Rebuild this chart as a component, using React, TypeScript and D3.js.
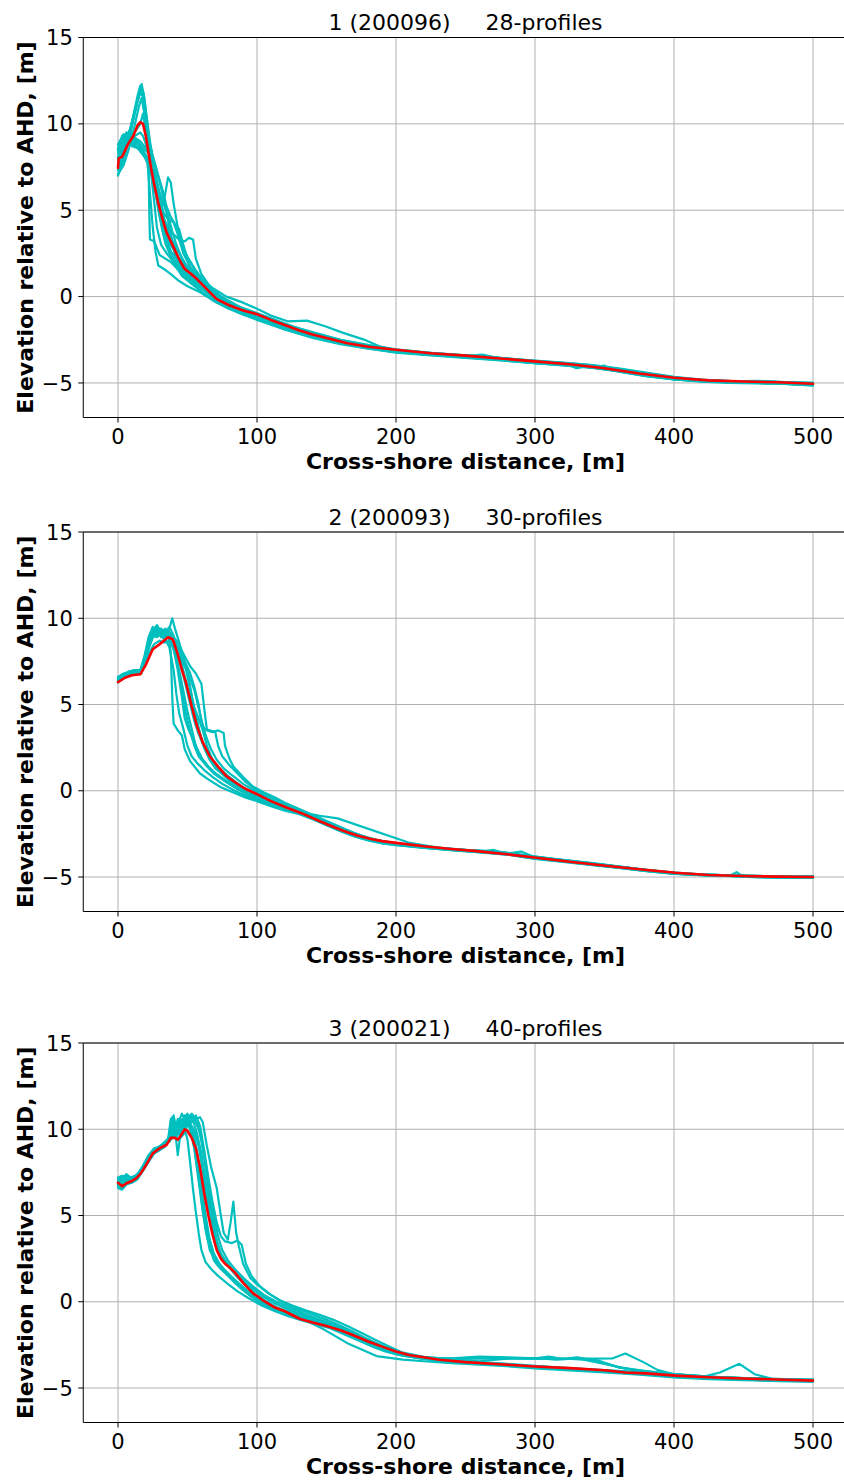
import React from "react";
import * as d3 from "d3";

type Pt = [number, number];

// ---------- tick labels ----------
const X_TICKS = [0, 100, 200, 300, 400, 500];
const Y_TICKS = [-5, 0, 5, 10, 15];

// ---------- panel titles ----------
const TITLES = ["1 (200096)     28-profiles", "2 (200093)     30-profiles", "3 (200021)     40-profiles"];

// ---------- Panel 1 profiles (cross-shore distance, elevation) ----------
const P1_A: Pt[] = [[0,7.0],[4,7.9],[8,9.1],[12,10.6],[15,11.8],[17,12.3],[19,11.5],[21,10.0],[23,8.3],[25,7.1],[28,5.6],[31,4.3],[34,3.1],[38,2.3],[42,1.7],[46,1.2],[52,0.8],[60,0.3],[70,-0.3],[80,-0.7],[90,-1.0],[100,-1.3],[120,-1.85],[140,-2.3],[160,-2.65],[180,-2.95],[200,-3.2],[225,-3.35],[250,-3.5],[275,-3.65],[300,-3.8],[320,-3.9],[340,-4.05],[360,-4.3],[380,-4.55],[400,-4.75],[420,-4.88],[440,-4.95],[460,-4.92],[480,-5.0],[500,-5.1]];
const P1_B: Pt[] = [[0,7.3],[5,8.3],[10,9.9],[14,11.3],[17,12.1],[19,11.2],[22,9.3],[25,7.6],[28,6.4],[31,5.1],[34,4.3],[37,3.3],[41,2.6],[45,2.0],[50,1.6],[56,1.1],[62,0.6],[70,0.0],[80,-0.45],[90,-0.85],[100,-1.15],[120,-1.7],[140,-2.2],[160,-2.55],[180,-2.85],[200,-3.1],[225,-3.3],[250,-3.45],[275,-3.6],[300,-3.75],[320,-3.88],[340,-4.0],[360,-4.25],[380,-4.5],[400,-4.7],[420,-4.85],[440,-4.9],[460,-4.95],[480,-4.98],[500,-5.05]];
const P1_C: Pt[] = [[0,8.6],[3,9.3],[5,9.0],[8,9.6],[10,9.2],[13,8.8],[16,8.5],[19,8.1],[22,7.6],[22.5,5.0],[23,3.3],[26,3.2],[28,2.8],[30,2.4],[34,2.2],[38,2.0],[44,1.5],[50,1.0],[56,0.6],[62,0.1],[70,-0.3],[80,-0.7],[90,-1.05],[100,-1.3],[120,-1.9],[140,-2.35],[160,-2.7],[180,-3.0],[200,-3.25],[225,-3.4],[250,-3.55],[275,-3.7],[300,-3.85],[320,-3.95],[340,-4.1],[350,-4.0],[360,-4.35],[380,-4.6],[400,-4.8],[420,-4.9],[440,-4.95],[460,-5.0],[480,-5.05],[500,-5.1]];
const P1_D: Pt[] = [[0,8.3],[4,8.9],[8,9.2],[12,8.9],[16,8.4],[20,8.0],[24,7.3],[27,6.0],[30,5.2],[33,5.5],[36,6.9],[38,6.6],[40,5.4],[43,4.0],[46,2.9],[50,2.3],[56,1.5],[62,0.8],[70,0.2],[80,-0.35],[90,-0.8],[100,-1.1],[120,-1.65],[140,-2.15],[160,-2.55],[180,-2.9],[200,-3.15],[225,-3.3],[250,-3.4],[275,-3.55],[300,-3.75],[320,-3.85],[340,-3.98],[360,-4.2],[380,-4.45],[400,-4.7],[420,-4.82],[440,-4.9],[460,-4.9],[480,-4.95],[500,-5.0]];
const P1_E: Pt[] = [[0,8.0],[5,8.7],[10,8.9],[15,8.6],[20,8.1],[25,7.3],[28,6.1],[32,4.6],[36,3.9],[40,3.6],[44,3.3],[48,3.2],[51,3.4],[54,3.3],[56,2.2],[60,1.3],[66,0.6],[72,0.1],[80,-0.25],[90,-0.7],[100,-1.0],[120,-1.6],[140,-2.1],[160,-2.5],[180,-2.85],[200,-3.1],[225,-3.28],[250,-3.42],[275,-3.58],[300,-3.78],[320,-3.9],[340,-4.05],[360,-4.28],[380,-4.55],[400,-4.72],[420,-4.86],[440,-4.92],[460,-4.95],[480,-5.0],[500,-5.08]];
const P1_F: Pt[] = [[0,7.5],[5,8.5],[10,9.3],[14,9.0],[18,8.6],[22,8.3],[25,8.0],[27,7.0],[30,5.6],[33,4.8],[36,4.5],[40,4.3],[43,3.6],[47,2.5],[52,1.7],[58,1.1],[65,0.4],[75,-0.1],[85,-0.6],[100,-1.05],[120,-1.6],[140,-2.05],[160,-2.5],[180,-2.8],[200,-3.05],[225,-3.25],[250,-3.4],[275,-3.55],[300,-3.7],[320,-3.82],[340,-3.95],[360,-4.15],[380,-4.4],[400,-4.65],[420,-4.8],[440,-4.9],[460,-4.88],[480,-4.95],[500,-5.0]];
const P1_G: Pt[] = [[0,7.4],[5,8.5],[10,10.1],[14,11.6],[16,12.2],[18,11.9],[20,10.8],[23,9.0],[26,7.5],[29,6.2],[32,5.0],[35,3.8],[38,3.0],[42,2.4],[47,1.6],[52,1.2],[58,0.7],[65,0.2],[75,-0.3],[85,-0.75],[100,-1.2],[120,-1.75],[140,-2.25],[160,-2.6],[180,-2.9],[200,-3.15],[225,-3.32],[250,-3.47],[275,-3.62],[300,-3.8],[320,-3.92],[340,-4.02],[360,-4.28],[380,-4.52],[400,-4.74],[420,-4.87],[440,-4.93],[460,-4.97],[480,-5.02],[500,-5.12]];
const P1_H: Pt[] = [[0,8.8],[4,9.4],[7,9.0],[10,8.7],[14,8.6],[18,8.3],[21,7.9],[23,6.0],[25,4.0],[27,2.6],[29,1.8],[33,1.6],[38,1.3],[44,0.9],[50,0.6],[58,0.3],[66,-0.05],[75,-0.4],[85,-0.85],[100,-1.35],[120,-1.9],[140,-2.4],[160,-2.75],[180,-3.02],[200,-3.22],[225,-3.38],[250,-3.52],[275,-3.66],[300,-3.85],[320,-3.98],[340,-4.12],[360,-4.32],[380,-4.58],[400,-4.8],[420,-4.92],[440,-5.0],[460,-5.02],[480,-5.05],[500,-5.15]];
const P1_I: Pt[] = [[0,7.9],[4,8.7],[8,9.4],[12,9.5],[16,10.0],[18,10.6],[20,9.6],[23,8.2],[26,6.8],[29,5.5],[32,4.6],[35,4.2],[38,3.5],[41,2.9],[45,2.4],[49,1.8],[54,1.3],[60,0.8],[68,0.2],[78,-0.3],[90,-0.8],[100,-1.1],[120,-1.7],[140,-2.2],[160,-2.6],[180,-2.88],[200,-3.12],[225,-3.3],[250,-3.44],[262,-3.36],[275,-3.58],[300,-3.76],[320,-3.86],[330,-4.15],[340,-4.0],[360,-4.22],[380,-4.48],[400,-4.7],[420,-4.84],[440,-4.9],[460,-4.92],[480,-4.97],[500,-5.05]];
const P1_J: Pt[] = [[0,8.1],[4,8.8],[8,9.0],[12,8.7],[16,8.5],[20,8.2],[24,7.6],[27,6.4],[30,5.0],[33,4.0],[36,3.2],[40,2.8],[44,2.2],[48,1.9],[54,1.5],[60,1.0],[68,0.5],[78,0.0],[90,-0.35],[100,-0.7],[110,-1.1],[122,-1.43],[136,-1.39],[149,-1.72],[162,-2.1],[177,-2.49],[188,-2.88],[200,-3.1],[225,-3.28],[250,-3.43],[275,-3.57],[300,-3.74],[320,-3.87],[340,-4.0],[360,-4.24],[380,-4.5],[400,-4.72],[420,-4.85],[440,-4.9],[460,-4.93],[480,-4.98],[500,-5.05]];
const P1_K: Pt[] = [[0,7.1],[4,7.6],[8,8.6],[12,9.9],[15,11.0],[17,11.5],[19,10.6],[21,9.5],[24,8.4],[27,7.6],[30,6.6],[33,5.6],[36,4.4],[39,3.2],[42,2.2],[46,1.5],[52,1.0],[60,0.5],[70,-0.1],[80,-0.55],[90,-0.95],[100,-1.25],[120,-1.8],[140,-2.28],[160,-2.62],[180,-2.92],[200,-3.18],[225,-3.34],[250,-3.49],[275,-3.64],[300,-3.82],[320,-3.94],[340,-4.08],[360,-4.3],[380,-4.56],[400,-4.78],[420,-4.9],[440,-4.96],[460,-4.96],[480,-5.02],[500,-5.1]];
const P1_L: Pt[] = [[0,8.4],[4,9.0],[8,9.4],[12,9.1],[16,8.7],[20,8.2],[23,7.8],[26,6.6],[29,5.0],[32,3.8],[35,3.0],[38,2.6],[42,2.3],[46,1.8],[50,1.4],[56,1.0],[62,0.6],[70,0.1],[80,-0.4],[90,-0.85],[100,-1.15],[120,-1.75],[140,-2.22],[160,-2.58],[180,-2.86],[200,-3.12],[225,-3.3],[250,-3.46],[275,-3.6],[300,-3.79],[320,-3.9],[340,-4.04],[360,-4.26],[380,-4.52],[400,-4.74],[420,-4.86],[440,-4.93],[460,-4.95],[480,-5.0],[500,-5.06]];
const P1_M: Pt[] = [[0,8.5],[3,9.0],[6,9.5],[9,9.2],[12,8.8],[15,8.6],[18,8.4],[21,8.0],[24,7.0],[26,5.5],[28,4.0],[31,3.0],[35,2.5],[40,2.0],[45,1.5],[51,1.1],[58,0.6],[66,0.1],[75,-0.35],[85,-0.75],[100,-1.2],[120,-1.8],[140,-2.25],[160,-2.62],[180,-2.92],[200,-3.18],[225,-3.36],[250,-3.5],[275,-3.64],[300,-3.83],[320,-3.96],[340,-4.1],[360,-4.3],[380,-4.56],[400,-4.76],[420,-4.88],[440,-4.96],[460,-5.0],[480,-5.04],[500,-5.12]];
const P1_N: Pt[] = [[0,7.6],[5,8.6],[9,9.8],[13,11.0],[16,11.8],[18,11.6],[20,10.4],[23,8.8],[26,7.8],[29,7.0],[32,6.2],[35,5.2],[38,4.6],[41,4.2],[44,3.9],[47,3.0],[50,2.2],[55,1.6],[61,1.0],[68,0.4],[76,-0.1],[86,-0.55],[100,-0.95],[115,-1.4],[130,-1.85],[145,-2.25],[160,-2.55],[180,-2.85],[200,-3.08],[225,-3.26],[250,-3.4],[275,-3.56],[300,-3.72],[320,-3.84],[340,-3.97],[360,-4.18],[380,-4.44],[400,-4.68],[420,-4.82],[440,-4.88],[460,-4.9],[480,-4.96],[500,-5.02]];
const P1_O: Pt[] = [[0,8.0],[4,8.6],[8,8.9],[12,9.3],[16,9.5],[18,9.3],[21,8.6],[24,7.8],[27,7.0],[30,6.0],[33,5.3],[36,4.7],[39,3.8],[42,3.0],[46,2.2],[50,1.7],[56,1.2],[63,0.7],[71,0.1],[80,-0.4],[90,-0.8],[100,-1.18],[120,-1.72],[140,-2.18],[160,-2.58],[180,-2.88],[200,-3.14],[225,-3.31],[250,-3.45],[275,-3.6],[300,-3.78],[320,-3.9],[340,-4.03],[360,-4.24],[380,-4.5],[400,-4.73],[420,-4.87],[440,-4.92],[460,-4.94],[480,-4.99],[500,-5.06]];
const P1_P: Pt[] = [[0,7.7],[4,8.4],[8,9.0],[12,9.2],[16,9.0],[20,8.6],[23,8.2],[26,7.4],[29,6.0],[32,4.8],[35,3.4],[38,2.6],[41,2.1],[45,1.6],[50,1.2],[56,0.8],[62,0.4],[70,-0.1],[80,-0.6],[90,-0.95],[100,-1.25],[120,-1.82],[140,-2.32],[160,-2.68],[180,-2.97],[200,-3.22],[225,-3.37],[250,-3.52],[275,-3.67],[300,-3.86],[320,-3.97],[340,-4.1],[360,-4.33],[380,-4.6],[400,-4.8],[420,-4.9],[440,-4.97],[460,-5.0],[480,-5.05],[500,-5.12]];
const P1_MEAN: Pt[] = [[0,7.45],[0.5,8.0],[3,8.1],[7,8.8],[11,9.3],[14,9.9],[16,10.1],[18,10.0],[20,9.3],[22,8.3],[24,7.35],[26,6.5],[29,5.4],[32,4.5],[35,3.7],[38,3.2],[42,2.5],[45,2.0],[48,1.6],[52,1.35],[57,1.0],[63,0.5],[71,-0.15],[80,-0.5],[90,-0.8],[100,-1.02],[110,-1.35],[120,-1.65],[130,-1.95],[140,-2.2],[150,-2.4],[165,-2.7],[180,-2.9],[200,-3.08],[225,-3.28],[250,-3.42],[275,-3.58],[300,-3.75],[325,-3.92],[350,-4.15],[375,-4.45],[400,-4.7],[425,-4.85],[450,-4.92],[475,-4.96],[500,-5.05]];

// ---------- Panel 2 profiles ----------
const P2_A: Pt[] = [[0,6.4],[3,6.6],[6,6.8],[10,6.9],[14,6.9],[17,6.8],[20,7.8],[23,9.0],[26,9.4],[29,9.1],[31,9.3],[34,8.8],[37,9.4],[39,10.0],[41,9.4],[44,8.6],[47,7.8],[50,6.6],[53,5.5],[56,4.4],[59,3.3],[62,2.5],[66,1.8],[70,1.3],[76,0.9],[82,0.5],[90,0.1],[100,-0.4],[110,-0.75],[120,-1.0],[130,-1.25],[140,-1.55],[150,-1.9],[160,-2.25],[170,-2.55],[180,-2.8],[190,-2.98],[200,-3.1],[220,-3.28],[240,-3.42],[260,-3.52],[280,-3.65],[300,-3.88],[320,-4.05],[340,-4.25],[360,-4.42],[380,-4.6],[400,-4.78],[420,-4.88],[440,-4.92],[460,-4.97],[480,-5.0],[500,-5.02]];
const P2_B: Pt[] = [[0,6.3],[4,6.6],[8,6.8],[12,6.9],[16,6.8],[19,7.6],[22,8.8],[25,9.3],[28,9.0],[31,9.2],[34,8.7],[36,9.1],[38,8.0],[39,5.5],[40,3.9],[43,3.5],[46,3.2],[48,2.4],[52,1.7],[59,1.0],[66,0.6],[74,0.2],[83,-0.1],[92,-0.4],[100,-0.6],[110,-0.9],[120,-1.15],[130,-1.35],[140,-1.65],[150,-2.0],[160,-2.35],[170,-2.65],[180,-2.88],[190,-3.05],[200,-3.15],[220,-3.32],[240,-3.45],[260,-3.58],[280,-3.7],[300,-3.95],[320,-4.12],[340,-4.3],[360,-4.48],[380,-4.66],[400,-4.82],[420,-4.9],[440,-4.95],[460,-5.02],[480,-5.05],[500,-5.05]];
const P2_C: Pt[] = [[0,6.5],[4,6.7],[8,6.9],[12,7.0],[16,6.9],[19,7.4],[22,8.4],[25,9.0],[28,9.5],[31,9.1],[34,9.4],[37,8.9],[40,8.7],[44,8.4],[48,7.8],[52,7.2],[56,6.8],[60,6.2],[62,4.8],[64,3.5],[68,3.4],[72,3.5],[76,3.35],[77,2.6],[80,1.9],[83,1.4],[90,0.8],[97,0.25],[105,-0.1],[112,-0.35],[120,-0.7],[130,-1.05],[140,-1.4],[150,-1.75],[160,-2.1],[170,-2.45],[180,-2.72],[190,-2.92],[200,-3.05],[220,-3.25],[240,-3.4],[260,-3.5],[280,-3.62],[300,-3.85],[320,-4.02],[340,-4.22],[360,-4.4],[380,-4.58],[400,-4.75],[420,-4.86],[440,-4.9],[460,-4.95],[480,-5.0],[500,-4.98]];
const P2_D: Pt[] = [[0,6.3],[4,6.5],[8,6.7],[12,6.8],[16,6.8],[19,7.2],[22,7.9],[26,8.5],[30,8.7],[33,8.6],[36,9.0],[38,8.6],[41,8.0],[44,7.0],[47,5.8],[50,4.6],[53,3.6],[56,2.6],[60,1.9],[65,1.4],[70,1.0],[78,0.5],[86,0.1],[95,-0.3],[100,-0.45],[110,-0.8],[120,-1.05],[130,-1.3],[140,-1.6],[150,-1.95],[160,-2.3],[170,-2.6],[180,-2.85],[190,-3.02],[200,-3.12],[220,-3.3],[240,-3.43],[260,-3.55],[270,-3.42],[280,-3.68],[300,-3.92],[320,-4.08],[340,-4.28],[360,-4.46],[380,-4.64],[400,-4.8],[420,-4.9],[440,-4.92],[445,-4.72],[450,-4.98],[470,-5.02],[500,-5.04]];
const P2_E: Pt[] = [[0,6.6],[4,6.8],[8,6.9],[12,7.0],[16,7.0],[19,7.8],[22,8.9],[25,9.5],[28,9.2],[31,9.0],[34,9.3],[37,9.0],[40,8.5],[43,7.8],[46,7.0],[49,6.0],[52,5.0],[55,4.0],[58,3.3],[62,2.5],[66,1.8],[72,1.2],[80,0.6],[88,0.2],[96,-0.2],[105,-0.55],[115,-0.85],[125,-1.1],[135,-1.3],[145,-1.45],[158,-1.6],[209,-3.0],[230,-3.3],[250,-3.42],[270,-3.5],[290,-3.7],[310,-3.92],[330,-4.12],[350,-4.3],[370,-4.5],[390,-4.68],[410,-4.82],[430,-4.88],[450,-4.95],[470,-4.98],[500,-5.0]];
const P2_F: Pt[] = [[0,6.4],[4,6.6],[8,6.8],[12,6.9],[16,6.85],[19,7.5],[22,8.5],[25,9.1],[28,9.3],[31,8.9],[34,9.2],[37,9.5],[40,9.0],[43,8.3],[46,7.3],[49,6.3],[52,5.4],[55,4.8],[58,4.2],[61,3.5],[64,2.6],[68,1.8],[73,1.3],[80,0.8],[88,0.3],[96,-0.15],[105,-0.5],[115,-0.85],[125,-1.15],[135,-1.4],[145,-1.7],[155,-2.05],[165,-2.4],[175,-2.68],[185,-2.9],[200,-3.08],[220,-3.26],[240,-3.4],[260,-3.5],[280,-3.64],[290,-3.52],[300,-3.86],[320,-4.04],[340,-4.24],[360,-4.42],[380,-4.62],[400,-4.78],[420,-4.88],[440,-4.94],[460,-4.96],[480,-4.99],[500,-5.0]];
const P2_G: Pt[] = [[0,6.5],[4,6.7],[8,6.9],[12,6.95],[16,6.9],[19,7.3],[22,8.2],[25,8.9],[28,9.2],[31,9.4],[34,9.0],[37,8.8],[40,8.6],[44,8.0],[48,7.2],[52,6.5],[55,5.8],[58,4.8],[61,3.8],[64,3.0],[67,2.4],[71,1.8],[76,1.3],[82,0.9],[90,0.4],[98,0.0],[106,-0.35],[115,-0.7],[125,-1.0],[135,-1.28],[145,-1.62],[155,-1.98],[165,-2.32],[175,-2.62],[185,-2.86],[200,-3.05],[220,-3.24],[240,-3.38],[260,-3.5],[280,-3.63],[300,-3.84],[320,-4.02],[340,-4.2],[360,-4.4],[380,-4.6],[400,-4.76],[420,-4.86],[440,-4.9],[460,-4.94],[480,-4.98],[500,-5.0]];
const P2_H: Pt[] = [[0,6.3],[4,6.55],[8,6.75],[12,6.85],[16,6.8],[19,7.6],[22,8.7],[25,9.2],[28,9.4],[31,9.0],[34,8.8],[37,8.3],[40,7.0],[42,5.6],[44,4.5],[47,3.6],[50,2.6],[53,2.0],[57,1.6],[62,1.2],[68,0.8],[75,0.4],[84,0.0],[92,-0.3],[100,-0.55],[110,-0.85],[120,-1.1],[130,-1.32],[140,-1.62],[150,-1.98],[160,-2.33],[170,-2.63],[180,-2.87],[190,-3.04],[200,-3.14],[220,-3.3],[240,-3.44],[260,-3.56],[280,-3.7],[300,-3.93],[320,-4.1],[340,-4.28],[360,-4.46],[380,-4.64],[400,-4.8],[420,-4.9],[440,-4.94],[460,-5.0],[480,-5.02],[500,-5.03]];
const P2_I: Pt[] = [[0,6.4],[4,6.6],[8,6.8],[12,6.9],[16,6.9],[19,7.4],[22,8.3],[25,8.9],[28,9.1],[31,9.3],[34,8.9],[37,9.2],[40,8.8],[44,8.2],[48,7.5],[52,6.8],[55,6.0],[58,5.0],[60,4.0],[62,3.6],[66,3.5],[70,3.4],[72,2.6],[75,2.0],[80,1.5],[86,1.0],[92,0.5],[100,0.0],[108,-0.3],[116,-0.6],[125,-0.95],[135,-1.25],[145,-1.58],[155,-1.95],[165,-2.3],[175,-2.6],[185,-2.85],[200,-3.03],[220,-3.22],[240,-3.37],[260,-3.48],[280,-3.62],[300,-3.82],[320,-4.0],[340,-4.18],[360,-4.38],[380,-4.58],[400,-4.74],[420,-4.85],[440,-4.9],[460,-4.94],[480,-4.96],[500,-4.95]];
const P2_J: Pt[] = [[0,6.35],[4,6.6],[8,6.8],[12,6.9],[16,6.85],[19,7.7],[22,8.6],[25,9.0],[28,8.9],[31,9.1],[34,8.6],[37,8.7],[40,8.4],[43,7.2],[46,5.8],[49,4.4],[52,3.4],[55,2.6],[58,2.0],[63,1.5],[69,1.0],[76,0.6],[84,0.2],[92,-0.15],[100,-0.5],[110,-0.82],[120,-1.08],[130,-1.3],[140,-1.6],[150,-1.95],[160,-2.3],[170,-2.6],[180,-2.84],[190,-3.0],[200,-3.1],[220,-3.28],[240,-3.42],[260,-3.54],[280,-3.68],[300,-3.9],[320,-4.06],[340,-4.26],[360,-4.44],[380,-4.62],[400,-4.79],[420,-4.88],[440,-4.94],[460,-4.98],[480,-5.03],[500,-5.02]];
const P2_K: Pt[] = [[0,6.5],[4,6.75],[8,6.9],[12,7.0],[16,6.95],[19,7.6],[22,8.6],[25,9.2],[28,9.0],[31,9.4],[34,9.1],[37,8.9],[40,8.2],[43,7.0],[46,5.4],[48,4.2],[51,3.5],[54,3.0],[57,2.4],[61,1.8],[66,1.3],[72,0.9],[80,0.45],[88,0.05],[96,-0.3],[105,-0.62],[115,-0.92],[125,-1.15],[135,-1.38],[145,-1.68],[155,-2.02],[165,-2.38],[175,-2.66],[185,-2.88],[200,-3.06],[220,-3.25],[240,-3.4],[260,-3.5],[280,-3.6],[300,-3.84],[320,-4.03],[340,-4.21],[360,-4.41],[380,-4.6],[400,-4.77],[420,-4.87],[440,-4.92],[460,-4.96],[480,-5.0],[500,-4.98]];
const P2_L: Pt[] = [[0,6.45],[4,6.65],[8,6.85],[12,6.95],[16,6.9],[19,7.5],[22,8.6],[25,9.3],[28,9.6],[31,9.2],[34,9.0],[37,9.1],[40,8.9],[43,8.6],[46,8.0],[49,7.2],[52,6.0],[55,4.6],[58,3.6],[61,2.8],[65,2.1],[70,1.5],[76,1.0],[83,0.55],[91,0.15],[100,-0.25],[110,-0.62],[120,-0.95],[130,-1.22],[140,-1.52],[150,-1.86],[160,-2.22],[170,-2.52],[180,-2.78],[190,-2.96],[200,-3.07],[220,-3.26],[240,-3.41],[260,-3.52],[280,-3.66],[300,-3.87],[320,-4.05],[340,-4.24],[360,-4.43],[380,-4.61],[400,-4.78],[420,-4.88],[440,-4.93],[460,-4.97],[480,-5.01],[500,-5.01]];
const P2_MEAN: Pt[] = [[0,6.3],[5,6.55],[10,6.7],[16,6.75],[20,7.3],[25,8.2],[30,8.5],[33,8.7],[36,8.9],[39,8.8],[40,8.65],[43,7.9],[46,7.0],[49,6.25],[53,4.9],[57,3.7],[61,2.8],[66,2.0],[72,1.4],[78,0.85],[85,0.45],[92,0.1],[100,-0.2],[110,-0.6],[122,-1.0],[132,-1.3],[142,-1.65],[152,-2.0],[163,-2.35],[172,-2.6],[182,-2.8],[190,-2.92],[200,-3.02],[220,-3.22],[240,-3.38],[258,-3.5],[280,-3.68],[301,-3.88],[325,-4.12],[351,-4.35],[375,-4.55],[401,-4.75],[425,-4.88],[449,-4.94],[475,-4.98],[500,-5.0]];

// ---------- Panel 3 profiles ----------
const P3_A: Pt[] = [[0,6.9],[3,7.1],[6,7.4],[9,7.2],[13,7.3],[17,7.7],[21,8.2],[25,8.7],[29,8.9],[33,9.0],[36,9.4],[38,10.6],[40,9.8],[42,9.5],[45,10.2],[48,10.8],[51,10.3],[54,9.6],[57,8.2],[60,6.4],[63,4.6],[66,3.2],[69,2.4],[73,2.0],[78,1.6],[84,1.1],[90,0.7],[96,0.3],[102,-0.05],[110,-0.4],[120,-0.7],[130,-0.95],[140,-1.15],[150,-1.35],[160,-1.7],[170,-2.05],[180,-2.4],[190,-2.72],[200,-3.0],[215,-3.25],[230,-3.42],[250,-3.55],[275,-3.68],[300,-3.82],[325,-3.92],[350,-4.05],[375,-4.18],[400,-4.35],[425,-4.45],[450,-4.52],[475,-4.56],[500,-4.6]];
const P3_B: Pt[] = [[0,6.7],[3,6.6],[6,6.9],[10,7.0],[14,7.2],[18,7.7],[22,8.3],[26,8.7],[30,8.9],[34,9.2],[37,9.6],[39,10.7],[41,10.0],[43,8.5],[45,9.8],[47,10.6],[50,10.9],[52,10.2],[55,9.2],[58,7.6],[61,5.8],[64,4.0],[67,2.9],[70,2.3],[74,1.9],[80,1.5],[86,1.0],[93,0.5],[100,0.1],[110,-0.3],[120,-0.62],[130,-0.9],[140,-1.1],[150,-1.3],[160,-1.62],[170,-1.98],[180,-2.32],[190,-2.65],[200,-2.92],[215,-3.2],[230,-3.38],[250,-3.5],[275,-3.62],[300,-3.76],[325,-3.88],[350,-4.0],[375,-4.12],[400,-4.3],[425,-4.42],[450,-4.5],[475,-4.55],[500,-4.58]];
const P3_C: Pt[] = [[0,7.0],[3,7.2],[6,7.3],[10,7.1],[14,7.3],[18,7.8],[22,8.4],[26,8.8],[30,9.0],[34,9.3],[38,9.6],[42,10.0],[46,10.4],[50,10.6],[53,10.9],[56,10.6],[59,10.7],[61,10.4],[64,9.0],[67,7.8],[71,6.6],[74,5.0],[76,4.0],[79,3.6],[81,4.6],[83,5.8],[85,4.0],[87,3.2],[90,2.2],[95,1.4],[100,1.0],[108,0.5],[116,0.1],[125,-0.2],[135,-0.5],[145,-0.75],[155,-1.05],[165,-1.4],[175,-1.8],[185,-2.2],[195,-2.6],[205,-2.95],[220,-3.2],[240,-3.32],[260,-3.3],[280,-3.28],[300,-3.3],[320,-3.32],[340,-3.3],[356,-3.28],[365,-3.0],[378,-3.5],[388,-3.95],[400,-4.2],[425,-4.34],[450,-4.43],[475,-4.48],[500,-4.52]];
const P3_D: Pt[] = [[0,6.8],[3,6.9],[6,7.1],[10,7.0],[14,7.2],[18,7.6],[22,8.2],[26,8.6],[30,8.8],[33,9.1],[36,9.3],[38,10.2],[40,10.5],[42,9.6],[44,9.8],[47,10.3],[50,9.4],[52,8.0],[54,6.5],[56,5.2],[58,4.0],[60,3.0],[63,2.3],[67,1.9],[72,1.5],[78,1.1],[86,0.6],[94,0.2],[103,-0.2],[113,-0.55],[123,-0.85],[133,-1.1],[143,-1.32],[153,-1.55],[163,-1.9],[173,-2.25],[183,-2.6],[193,-2.9],[205,-3.12],[220,-3.3],[240,-3.45],[260,-3.56],[280,-3.65],[300,-3.78],[325,-3.9],[350,-4.02],[375,-4.14],[400,-4.32],[425,-4.44],[450,-4.52],[475,-4.57],[500,-4.6]];
const P3_E: Pt[] = [[0,7.2],[3,7.3],[6,7.2],[10,7.1],[14,7.3],[18,7.8],[22,8.3],[26,8.8],[30,9.0],[34,9.2],[37,9.5],[40,10.8],[42,10.0],[45,10.5],[48,10.0],[51,10.8],[54,10.5],[57,9.7],[60,8.6],[63,7.0],[66,5.5],[69,4.0],[72,3.1],[76,2.5],[80,2.0],[85,1.5],[91,1.0],[98,0.5],[106,0.05],[115,-0.35],[125,-0.65],[135,-0.92],[145,-1.15],[155,-1.4],[165,-1.75],[175,-2.12],[185,-2.5],[195,-2.8],[205,-3.05],[220,-3.25],[240,-3.28],[260,-3.18],[280,-3.22],[300,-3.28],[310,-3.18],[320,-3.33],[330,-3.22],[345,-3.4],[360,-3.8],[380,-4.05],[400,-4.22],[425,-4.36],[450,-4.44],[475,-4.5],[500,-4.55]];
const P3_F: Pt[] = [[0,6.9],[3,7.0],[6,7.2],[10,7.2],[14,7.4],[18,7.9],[22,8.5],[26,8.9],[30,9.0],[34,9.1],[37,9.3],[40,9.6],[43,10.3],[46,10.9],[49,10.4],[52,10.1],[55,8.8],[58,7.0],[61,5.2],[64,3.8],[67,2.9],[71,2.2],[76,1.8],[82,1.3],[88,0.8],[95,0.35],[103,-0.05],[112,-0.4],[122,-0.72],[132,-0.98],[142,-1.2],[152,-1.45],[162,-1.8],[172,-2.18],[182,-2.55],[192,-2.85],[202,-3.08],[220,-3.32],[240,-3.46],[260,-3.58],[280,-3.68],[300,-3.8],[325,-3.93],[350,-4.05],[375,-4.15],[400,-4.28],[420,-4.36],[433,-4.1],[447,-3.6],[458,-4.2],[470,-4.45],[485,-4.5],[500,-4.55]];
const P3_G: Pt[] = [[0,6.6],[3,6.5],[6,6.8],[10,6.9],[14,7.1],[18,7.6],[22,8.1],[26,8.6],[30,8.8],[34,9.0],[37,9.4],[40,9.6],[43,10.6],[45,9.5],[48,9.8],[51,10.5],[54,10.0],[57,8.6],[60,6.8],[63,5.0],[66,3.6],[69,2.8],[73,2.2],[78,1.7],[84,1.2],[90,0.8],[97,0.35],[105,-0.05],[114,-0.45],[124,-0.8],[134,-1.05],[148,-1.6],[165,-2.4],[186,-3.15],[205,-3.35],[220,-3.45],[240,-3.56],[260,-3.65],[280,-3.74],[300,-3.86],[325,-3.98],[350,-4.1],[375,-4.22],[400,-4.38],[425,-4.48],[450,-4.55],[475,-4.6],[500,-4.64]];
const P3_H: Pt[] = [[0,7.0],[3,7.2],[6,7.0],[10,7.1],[14,7.25],[18,7.7],[22,8.3],[26,8.7],[30,8.9],[34,9.1],[37,9.5],[40,9.7],[44,10.2],[47,10.5],[50,10.7],[53,10.4],[56,10.8],[59,10.2],[62,8.8],[65,7.2],[68,5.8],[71,4.6],[74,3.8],[77,3.5],[82,3.4],[86,3.55],[89,3.3],[92,2.2],[96,1.5],[102,0.9],[110,0.4],[118,0.0],[127,-0.35],[137,-0.65],[147,-0.95],[157,-1.28],[167,-1.65],[177,-2.05],[187,-2.45],[197,-2.78],[207,-3.02],[220,-3.22],[240,-3.36],[260,-3.45],[280,-3.3],[300,-3.26],[315,-3.35],[330,-3.28],[345,-3.45],[360,-3.8],[380,-4.02],[400,-4.2],[425,-4.34],[450,-4.42],[475,-4.5],[500,-4.54]];
const P3_I: Pt[] = [[0,6.8],[3,6.8],[6,7.0],[10,7.0],[14,7.2],[18,7.7],[22,8.2],[26,8.6],[30,8.9],[34,9.1],[37,9.3],[40,9.8],[43,10.4],[46,10.0],[49,10.6],[52,10.3],[55,9.9],[58,9.0],[61,7.6],[64,5.9],[67,4.4],[70,3.3],[74,2.6],[79,2.1],[85,1.6],[92,1.1],[100,0.6],[108,0.15],[117,-0.25],[127,-0.6],[137,-0.88],[147,-1.12],[157,-1.4],[167,-1.75],[177,-2.12],[187,-2.48],[197,-2.78],[207,-3.02],[220,-3.25],[240,-3.42],[260,-3.52],[280,-3.62],[300,-3.74],[325,-3.86],[350,-3.98],[375,-4.1],[400,-4.26],[425,-4.38],[450,-4.46],[475,-4.52],[500,-4.56]];
const P3_J: Pt[] = [[0,7.1],[3,7.2],[6,7.3],[10,7.2],[14,7.3],[18,7.75],[22,8.35],[26,8.75],[30,8.95],[34,9.15],[37,9.5],[40,10.3],[42,9.6],[45,10.6],[48,10.2],[51,10.6],[54,10.8],[57,10.3],[60,9.4],[63,8.0],[66,6.4],[69,5.0],[72,3.8],[75,3.0],[79,2.4],[84,1.9],[90,1.4],[97,0.9],[105,0.4],[114,0.0],[124,-0.35],[134,-0.7],[144,-1.0],[154,-1.3],[164,-1.62],[174,-1.98],[184,-2.35],[194,-2.7],[204,-2.98],[220,-3.22],[240,-3.4],[260,-3.5],[280,-3.6],[300,-3.72],[325,-3.85],[350,-3.96],[375,-4.08],[400,-4.24],[425,-4.36],[450,-4.45],[475,-4.5],[500,-4.55]];
const P3_K: Pt[] = [[0,7.0],[3,7.0],[6,7.1],[10,7.05],[14,7.25],[18,7.7],[22,8.25],[26,8.7],[30,8.9],[34,9.1],[37,9.4],[40,10.4],[42,9.8],[45,10.1],[48,10.7],[51,10.2],[54,9.4],[57,7.9],[60,6.0],[63,4.2],[66,3.0],[70,2.4],[75,2.0],[81,1.5],[88,1.0],[95,0.5],[103,0.05],[112,-0.35],[122,-0.68],[132,-0.95],[142,-1.18],[152,-1.42],[162,-1.75],[172,-2.12],[182,-2.5],[192,-2.8],[202,-3.05],[220,-3.28],[240,-3.44],[260,-3.55],[280,-3.64],[300,-3.78],[325,-3.9],[350,-4.02],[375,-4.14],[400,-4.3],[425,-4.42],[450,-4.5],[475,-4.55],[500,-4.58]];
const P3_L: Pt[] = [[0,6.8],[3,6.95],[6,7.2],[10,7.15],[14,7.35],[18,7.85],[22,8.4],[26,8.8],[30,9.0],[34,9.2],[37,9.6],[40,10.0],[44,10.6],[47,10.2],[50,10.5],[53,10.8],[56,10.4],[59,9.8],[62,8.4],[65,6.6],[68,4.9],[71,3.6],[74,2.8],[78,2.3],[83,1.8],[89,1.3],[96,0.8],[104,0.3],[113,-0.1],[123,-0.45],[133,-0.78],[143,-1.05],[153,-1.32],[163,-1.65],[173,-2.02],[183,-2.4],[193,-2.72],[203,-2.98],[220,-3.24],[240,-3.3],[260,-3.22],[280,-3.26],[300,-3.32],[320,-3.28],[335,-3.36],[350,-3.6],[370,-3.95],[390,-4.12],[410,-4.26],[430,-4.36],[450,-4.42],[475,-4.48],[500,-4.52]];
const P3_MEAN: Pt[] = [[0,6.9],[3,6.7],[7,6.9],[10,7.0],[13,7.15],[16,7.4],[20,7.9],[25,8.6],[30,8.9],[35,9.1],[38,9.5],[41,9.5],[43,9.4],[45,9.6],[48,10.0],[50,9.9],[53,9.5],[56,8.9],[59,7.8],[62,6.3],[65,5.0],[68,3.9],[71,3.0],[74,2.5],[77,2.2],[80,2.0],[84,1.7],[90,1.1],[97,0.5],[104,0.1],[112,-0.3],[120,-0.55],[131,-1.0],[140,-1.2],[150,-1.4],[160,-1.65],[168,-1.9],[180,-2.3],[190,-2.6],[200,-2.88],[210,-3.1],[220,-3.22],[231,-3.36],[250,-3.5],[275,-3.62],[300,-3.75],[325,-3.85],[350,-3.97],[365,-4.1],[380,-4.15],[401,-4.28],[425,-4.38],[455,-4.46],[480,-4.52],[500,-4.57]];

const PANEL1 = [P1_A, P1_B, P1_C, P1_D, P1_E, P1_F, P1_G, P1_H, P1_I, P1_J, P1_K, P1_L, P1_M, P1_N, P1_O, P1_P];
const PANEL2 = [P2_A, P2_B, P2_C, P2_D, P2_E, P2_F, P2_G, P2_H, P2_I, P2_J, P2_K, P2_L];
const PANEL3 = [P3_A, P3_B, P3_C, P3_D, P3_E, P3_F, P3_G, P3_H, P3_I, P3_J, P3_K, P3_L];

const X_DOMAIN: [number, number] = [-25, 525];
const Y_DOMAIN: [number, number] = [-7, 15];

const W = 844;
const H = 1481;
const LEFT = 83.25;
const RIGHT = 847.75;
const FONT = "'DejaVu Sans', sans-serif";

interface PanelProps {
  id: string;
  top: number;
  bottom: number;
  title: string;
  profiles: Pt[][];
  mean: Pt[];
}

function Panel({ id, top, bottom, title, profiles, mean }: PanelProps) {
  const x = d3.scaleLinear().domain(X_DOMAIN).range([LEFT, RIGHT]);
  const y = d3.scaleLinear().domain(Y_DOMAIN).range([bottom, top]);
  const line = d3
    .line<Pt>()
    .x((d) => x(d[0]))
    .y((d) => y(d[1]));
  const cx = (LEFT + RIGHT) / 2;
  const cy = (top + bottom) / 2;
  return (
    <g>
      <defs>
        <clipPath id={id}>
          <rect x={LEFT} y={top} width={RIGHT - LEFT} height={bottom - top} />
        </clipPath>
      </defs>
      {/* grid */}
      {X_TICKS.map((t) => (
        <line key={"gx" + t} x1={x(t)} x2={x(t)} y1={top} y2={bottom} stroke="#b0b0b0" strokeWidth={1} />
      ))}
      {Y_TICKS.map((t) => (
        <line key={"gy" + t} x1={LEFT} x2={RIGHT} y1={y(t)} y2={y(t)} stroke="#b0b0b0" strokeWidth={1} />
      ))}
      {/* profiles */}
      <g clipPath={`url(#${id})`} fill="none" strokeLinejoin="round" strokeLinecap="round">
        {profiles.map((p, i) => (
          <path key={i} d={line(p) || ""} stroke="#00bfbf" strokeWidth={2.2} />
        ))}
        <path d={line(mean) || ""} stroke="#ff0000" strokeWidth={2.6} />
      </g>
      {/* spines */}
      <line x1={LEFT} x2={LEFT} y1={top} y2={bottom} stroke="#000" strokeWidth={1} />
      <line x1={LEFT} x2={RIGHT} y1={bottom} y2={bottom} stroke="#000" strokeWidth={1} />
      <line x1={LEFT} x2={RIGHT} y1={top} y2={top} stroke="#000" strokeWidth={1} />
      <line x1={RIGHT} x2={RIGHT} y1={top} y2={bottom} stroke="#000" strokeWidth={1} />
      {/* ticks */}
      {X_TICKS.map((t) => (
        <g key={"tx" + t}>
          <line x1={x(t)} x2={x(t)} y1={bottom} y2={bottom + 5} stroke="#000" strokeWidth={1} />
          <text x={x(t)} y={bottom + 26} textAnchor="middle" fontSize={21} fontFamily={FONT} fill="#000">
            {t}
          </text>
        </g>
      ))}
      {Y_TICKS.map((t) => (
        <g key={"ty" + t}>
          <line x1={LEFT - 5} x2={LEFT} y1={y(t)} y2={y(t)} stroke="#000" strokeWidth={1} />
          <text x={LEFT - 10.5} y={y(t)} dy="0.36em" textAnchor="end" fontSize={21} fontFamily={FONT} fill="#000">
            {t < 0 ? "\u2212" + Math.abs(t) : String(t)}
          </text>
        </g>
      ))}
      {/* title */}
      <text x={cx} y={top - 7.5} textAnchor="middle" fontSize={22} fontFamily={FONT} fill="#000" style={{ whiteSpace: "pre" }}>
        {title}
      </text>
      {/* axis labels */}
      <text x={cx} y={bottom + 51.5} textAnchor="middle" fontSize={22} fontWeight="bold" fontFamily={FONT} fill="#000">
        Cross-shore distance, [m]
      </text>
      <text
        transform={`translate(33,${cy}) rotate(-90)`}
        textAnchor="middle"
        fontSize={22}
        fontWeight="bold"
        fontFamily={FONT}
        fill="#000"
      >
        Elevation relative to AHD, [m]
      </text>
    </g>
  );
}

export default function App() {
  return (
    <svg
      width={W}
      height={H}
      viewBox={`0 0 ${W} ${H}`}
      style={{ position: "absolute", left: 0, top: 0, background: "#fff" }}
    >
      <rect x={0} y={0} width={W} height={H} fill="#fff" />
      <Panel id="clip1" top={37.5} bottom={417.5} title={TITLES[0]} profiles={PANEL1} mean={P1_MEAN} />
      <Panel id="clip2" top={532} bottom={911.5} title={TITLES[1]} profiles={PANEL2} mean={P2_MEAN} />
      <Panel id="clip3" top={1043} bottom={1422.5} title={TITLES[2]} profiles={PANEL3} mean={P3_MEAN} />
    </svg>
  );
}
